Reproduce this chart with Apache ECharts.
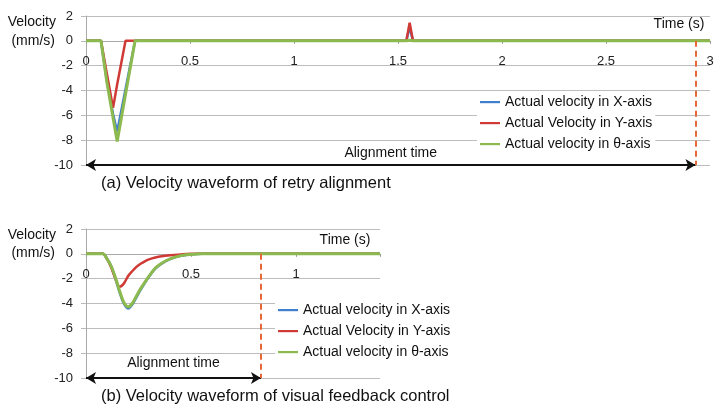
<!DOCTYPE html>
<html lang="en">
<head>
<meta charset="UTF-8">
<title>Velocity waveforms</title>
<script src="https://cdn.jsdelivr.net/npm/echarts@6/dist/echarts.min.js"></script>
<style>
  html, body { margin: 0; padding: 0; background: #fff; }
  #chart { width: 720px; height: 410px; }
</style>
</head>
<body>
<div id="chart"></div>
<script>
  // (a) retry alignment
  const tTop   = [0, 0.072, 0.10, 0.13, 0.15, 0.19, 0.236, 1.540, 1.556, 1.572, 3.0];
  const vxTop  = [0, 0, -3.2, -5.9, -7.3, -3.9, 0, 0, 1.1, 0, 0];
  const vyTop  = [0, 0, -2.6, -5.4, -3.5, 0, 0, 0, 1.45, 0, 0];
  const vthTop = [0, 0, -3.3, -6.2, -8.1, -4.3, 0, 0, 0.05, 0, 0];
  const alignTop = 2.93;

  // (b) visual feedback control
  const tBot   = [0, 0.08, 0.10, 0.12, 0.14, 0.16, 0.18, 0.20, 0.22, 0.24, 0.26, 0.28, 0.30, 0.33, 0.36, 0.40, 0.45, 0.50, 0.55, 0.60, 1.4];
  const vxBot  = [0, 0, -0.4, -1.0, -2.0, -3.1, -4.0, -4.4, -4.1, -3.5, -2.9, -2.35, -1.85, -1.2, -0.8, -0.42, -0.16, -0.05, 0, 0, 0];
  const vyBot  = [0, 0, -0.4, -1.1, -2.0, -2.65, -2.4, -1.8, -1.4, -1.05, -0.8, -0.6, -0.45, -0.3, -0.2, -0.12, -0.05, 0, 0, 0, 0];
  const vthBot = [0, 0, -0.4, -1.0, -1.9, -3.0, -3.9, -4.27, -4.0, -3.4, -2.8, -2.3, -1.8, -1.15, -0.75, -0.4, -0.15, -0.05, 0, 0, 0];
  const alignBot = 0.833;

  const yMin = -10, yMax = 2;
  const names = ['Actual velocity in X-axis', 'Actual Velocity in Y-axis', 'Actual velocity in θ-axis'];
  const colors = ['#3F7FCB', '#D03A36', '#8DBA4F'];
  const font = '"Liberation Sans", Arial, sans-serif';
  // short line as legend mark, box kept 20x14 so it is not stretched
  const lineIcon = 'path://M0,0 M0,6 L20,6 L20,8.2 L0,8.2 Z M20,14';
  const gridH = 149;

  const pairs = (t, v) => t.map((x, i) => [x, v[i]]);

  function xAxisOf(gridIndex, max) {
    return {
      type: 'value', gridIndex, min: 0, max, interval: 0.5,
      // move the time axis (line, ticks and labels) up to velocity 0
      offset: -gridH * (0 - yMin) / (yMax - yMin),
      axisLine: { onZero: false, lineStyle: { color: '#aaa', width: 1 } },
      axisTick: { show: true, length: 3, lineStyle: { color: '#999' } },
      splitLine: { show: false },
      axisLabel: {
        margin: 14, color: '#222', fontSize: 13, fontFamily: font,
        formatter: v => (Math.abs(v / 0.5 - Math.round(v / 0.5)) < 1e-6 ? String(v) : '')
      }
    };
  }
  function yAxisOf(gridIndex) {
    return {
      type: 'value', gridIndex, min: yMin, max: yMax, interval: 2,
      axisLine: { show: true, onZero: false, lineStyle: { color: '#aaa' } },
      axisTick: { show: true, length: 5, lineStyle: { color: '#bbb' } },
      splitLine: { lineStyle: { color: '#bdbdbd', width: 1 } },
      axisLabel: { margin: 13, color: '#222', fontSize: 13, fontFamily: font }
    };
  }
  function marks(align, labelDist) {
    return {
      silent: true, symbol: 'none', animation: false,
      data: [
        [
          { coord: [0, yMin], symbol: 'arrow', symbolSize: [9, 10],
            lineStyle: { color: '#111', width: 2, type: 'solid' },
            label: { show: true, position: 'middle', distance: labelDist, formatter: 'Alignment time',
                     color: '#111', fontSize: 14, fontFamily: font } },
          { coord: [align, yMin], symbol: 'arrow', symbolSize: [9, 10] }
        ],
        [
          { coord: [align, 0], symbol: 'none',
            lineStyle: { color: '#E5683A', width: 2, type: [6, 4] }, label: { show: false } },
          { coord: [align, yMin], symbol: 'none' }
        ]
      ]
    };
  }
  function seriesOf(idx, t, vs, align, labelDist) {
    return vs.map((v, k) => ({
      name: names[k], type: 'line', xAxisIndex: idx, yAxisIndex: idx,
      data: pairs(t, v), symbol: 'none', smooth: idx === 1 ? 0.3 : false,
      color: colors[k],
      lineStyle: { width: k === 2 ? 3 : 2.5, color: colors[k] },
      markLine: k === 2 ? marks(align, labelDist) : undefined
    }));
  }
  function legendAt(left, top) {
    return {
      data: names.map(n => ({ name: n, icon: lineIcon })),
      orient: 'vertical', left, top, padding: [2, 3],
      backgroundColor: '#fff', itemWidth: 20, itemHeight: 14, itemGap: 7,
      textStyle: { color: '#111', fontSize: 14, fontFamily: font },
      selectedMode: false
    };
  }
  function text(x, y, s, size, align) {
    return { type: 'text', x, y, style: { text: s, font: size + 'px ' + font, fill: '#111',
      align: align, textAlign: align, verticalAlign: 'middle', textVerticalAlign: 'middle' } };
  }

  const chart = echarts.init(document.getElementById('chart'));
  chart.setOption({
    animation: false,
    textStyle: { fontFamily: font },
    grid: [
      { left: 86, right: 10, top: 16, height: gridH },
      { left: 86, width: 294, top: 229, height: gridH }
    ],
    xAxis: [xAxisOf(0, 3), xAxisOf(1, 1.4)],
    yAxis: [yAxisOf(0), yAxisOf(1)],
    legend: [legendAt(477, 93), legendAt(275, 301)],
    series: [
      ...seriesOf(0, tTop, [vxTop, vyTop, vthTop], alignTop, 5),
      ...seriesOf(1, tBot, [vxBot, vyBot, vthBot], alignBot, 8)
    ],
    graphic: [
      text(56, 22, 'Velocity', 14, 'right'),
      text(55, 41, '(mm/s)', 14, 'right'),
      text(679, 24, 'Time (s)', 14, 'center'),
      text(56, 235, 'Velocity', 14, 'right'),
      text(55, 253, '(mm/s)', 14, 'right'),
      text(345, 240, 'Time (s)', 14, 'center'),
      text(101, 183, '(a) Velocity waveform of retry alignment', 16.5, 'left'),
      text(101, 396, '(b) Velocity waveform of visual feedback control', 16.5, 'left')
    ]
  });
</script>
</body>
</html>
